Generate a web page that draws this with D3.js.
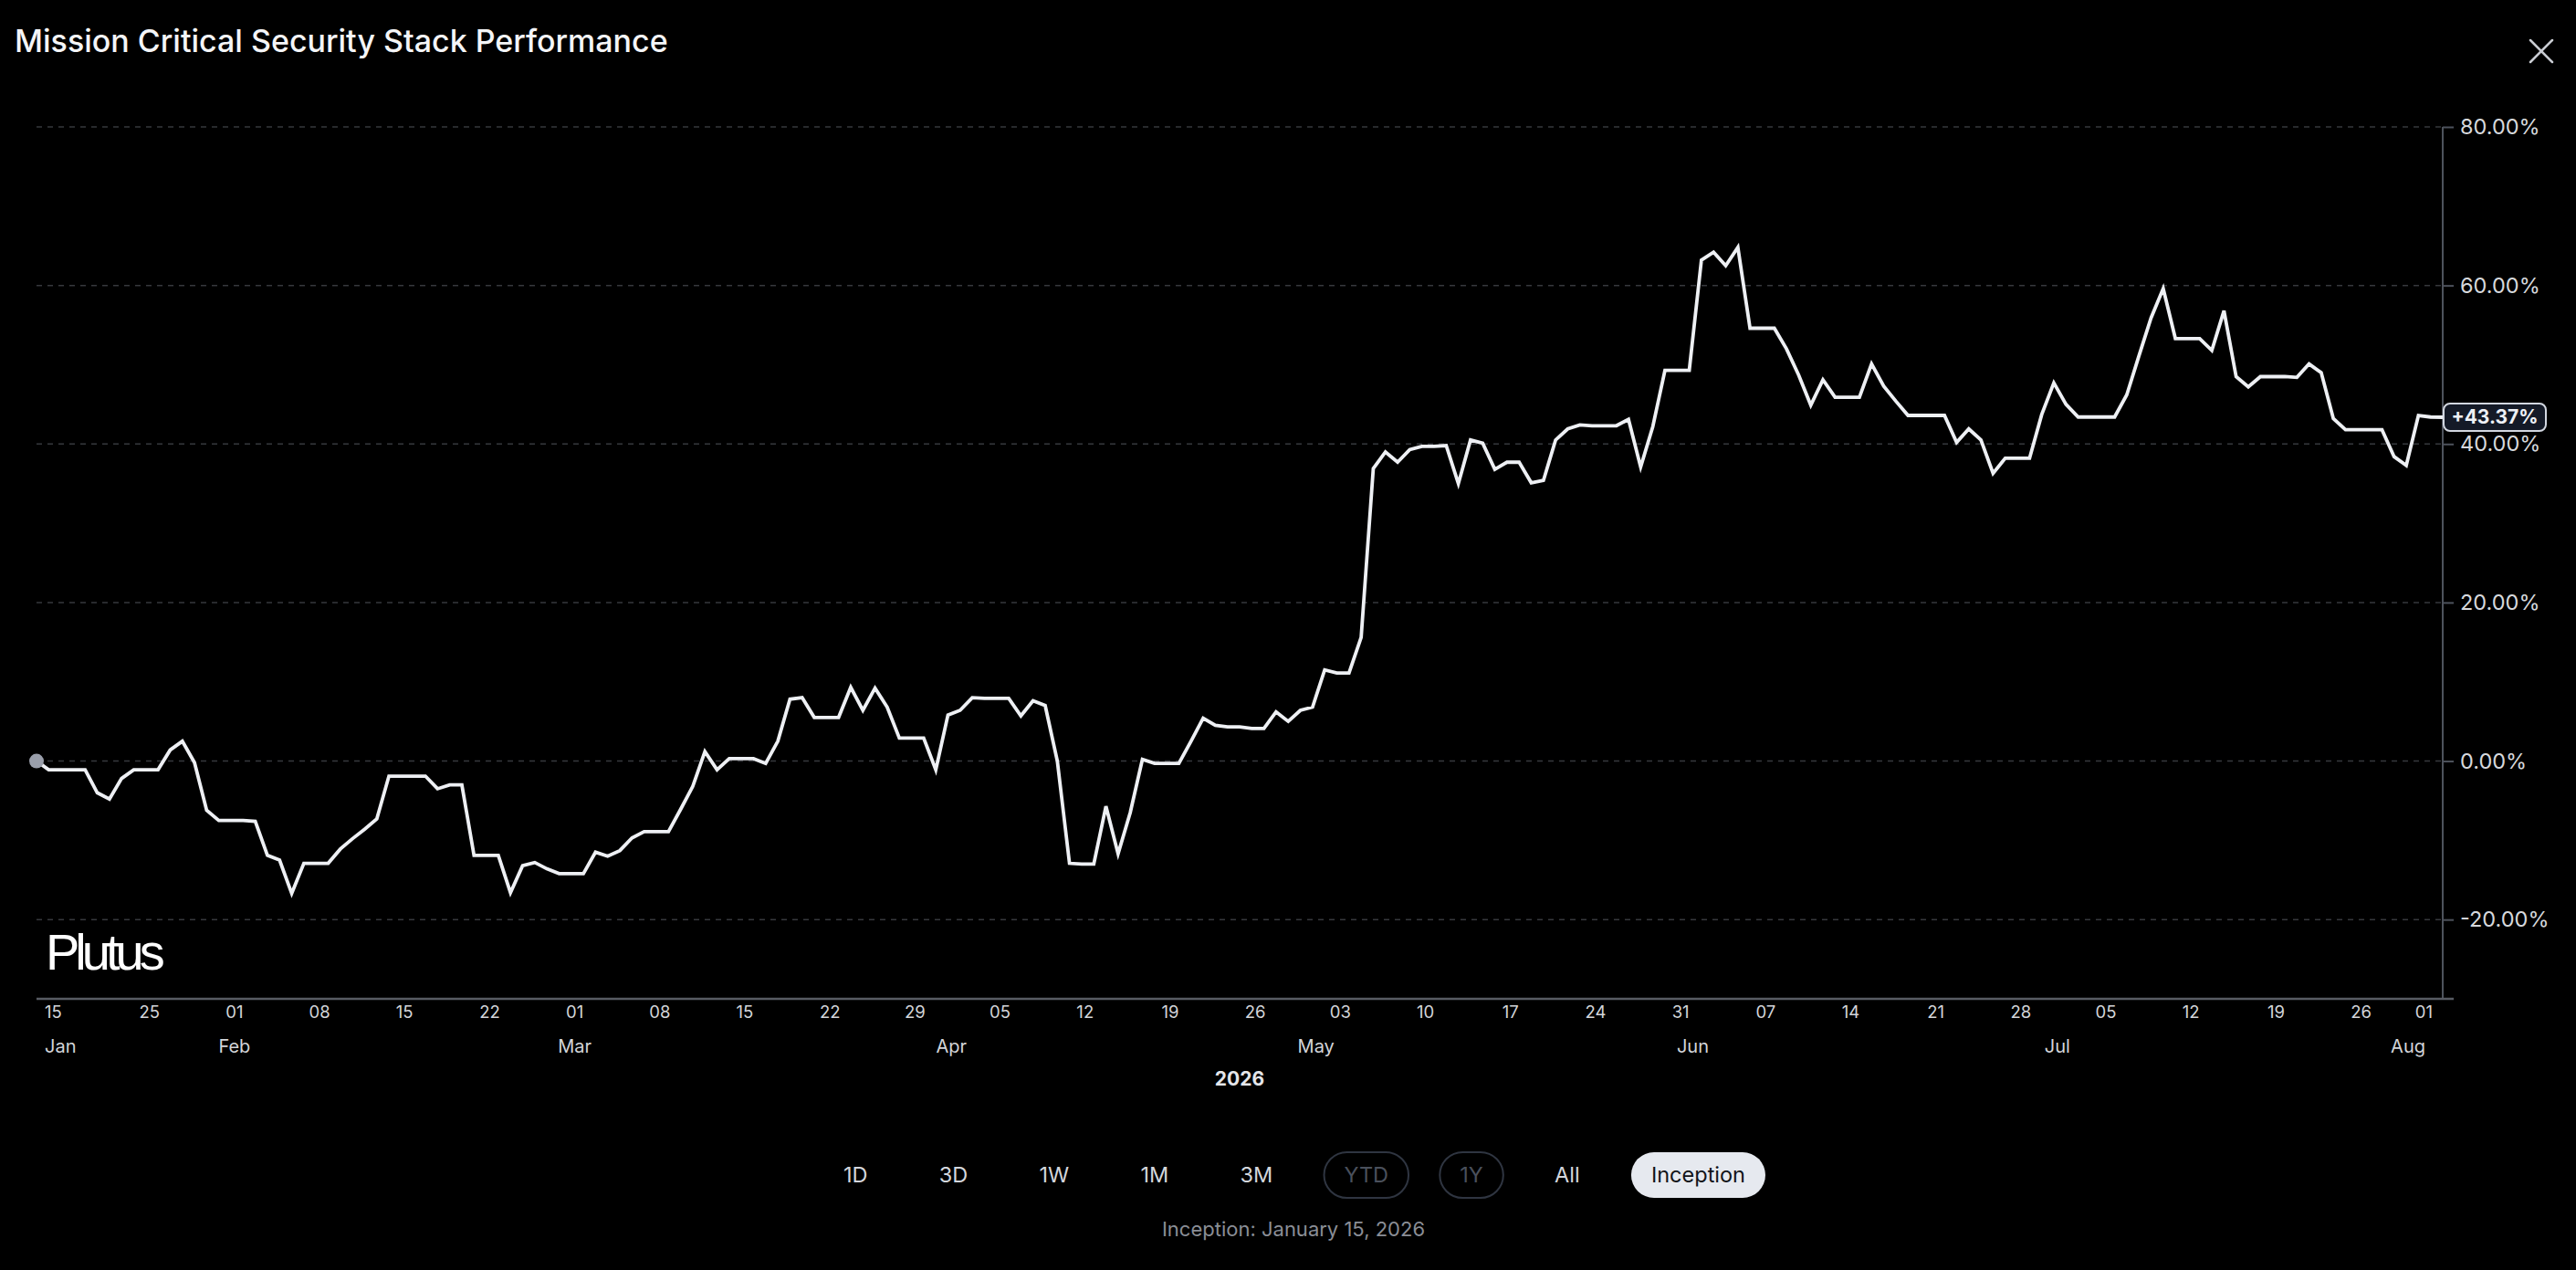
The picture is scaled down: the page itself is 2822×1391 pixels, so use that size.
<!DOCTYPE html>
<html>
<head>
<meta charset="utf-8">
<script src="https://cdn.jsdelivr.net/npm/d3@7"></script>
<style>
  html, body { margin: 0; background: #000; overflow: hidden; }
  svg { display: block; font-family: Inter, "Noto Sans", sans-serif; }
</style>
</head>
<body>
<svg id="chart" width="2822" height="1391"></svg>
<script>
const title = 'Mission Critical Security Stack Performance';
const inception = new Date(2026, 0, 15, 18);

// daily cumulative return (%) since inception, one value per calendar day
const janReturns = [0, -1.1, -1.1, -1.1, -1.1, -4.0, -4.8, -2.2, -1.1, -1.1, -1.1, 1.4, 2.5, -0.2, -6.2, -7.5, -7.5];
const febReturns = [-7.5, -7.6, -11.9, -12.5, -16.7, -12.9, -12.9, -12.9, -11.1, -9.8, -8.6, -7.3, -1.9, -1.9,
  -1.9, -1.9, -3.5, -3.0, -3.0, -11.9, -11.9, -11.9, -16.6, -13.2, -12.8, -13.6, -14.2, -14.2];
const marReturns = [-14.2, -11.5, -12.0, -11.3, -9.7, -8.9, -8.9, -8.9, -6.1, -3.2, 1.2, -1.1, 0.3, 0.3, 0.3, -0.3,
  2.5, 7.8, 8.0, 5.5, 5.5, 5.5, 9.3, 6.4, 9.2, 6.8, 2.9, 2.9, 2.9, -1.1, 5.8];
const aprReturns = [6.4, 8.0, 7.9, 7.9, 7.9, 5.7, 7.6, 7.0, 0.0, -12.9, -13.0, -13.0, -5.7, -11.7, -6.5, 0.2, -0.3,
  -0.3, -0.3, 2.5, 5.4, 4.5, 4.3, 4.3, 4.1, 4.1, 6.2, 5.0, 6.4, 6.8];
const mayReturns = [11.5, 11.1, 11.1, 15.6, 36.9, 39.0, 37.7, 39.3, 39.7, 39.7, 39.8, 35.0, 40.5, 40.1, 36.8, 37.7,
  37.7, 35.1, 35.4, 40.5, 41.9, 42.4, 42.3, 42.3, 42.3, 43.1, 37.1, 42.2, 49.3, 49.3, 49.3];
const junReturns = [63.2, 64.2, 62.5, 64.8, 54.6, 54.6, 54.6, 52.0, 48.7, 44.9, 48.1, 45.9, 45.9, 45.9, 50.1, 47.3,
  45.4, 43.6, 43.6, 43.6, 43.6, 40.2, 41.9, 40.5, 36.3, 38.2, 38.2, 38.2, 43.7, 47.7];
const julReturns = [45.0, 43.4, 43.4, 43.4, 43.4, 46.2, 51.1, 55.9, 59.6, 53.3, 53.3, 53.3, 51.8, 56.8, 48.5, 47.2,
  48.5, 48.5, 48.5, 48.4, 50.1, 49.0, 43.2, 41.8, 41.8, 41.8, 41.8, 38.4, 37.3, 43.6, 43.4];
const augReturns = [43.37];

const dayTicks = ['2026-01-15', '2026-01-25', '2026-02-01', '2026-02-08', '2026-02-15', '2026-02-22',
  '2026-03-01', '2026-03-08', '2026-03-15', '2026-03-22', '2026-03-29', '2026-04-05', '2026-04-12',
  '2026-04-19', '2026-04-26', '2026-05-03', '2026-05-10', '2026-05-17', '2026-05-24', '2026-05-31',
  '2026-06-07', '2026-06-14', '2026-06-21', '2026-06-28', '2026-07-05', '2026-07-12', '2026-07-19',
  '2026-07-26', '2026-08-01'];
const monthTicks = ['2026-01-15', '2026-02-01', '2026-03-01', '2026-04-01', '2026-05-01', '2026-06-01',
  '2026-07-01', '2026-08-01'];
const yearLabel = '2026';
const yTicks = [-20, 0, 20, 40, 60, 80];
const ranges = ['1D', '3D', '1W', '1M', '3M', 'YTD', '1Y', 'All', 'Inception'];
const disabledRanges = ['YTD', '1Y'];
const activeRange = 'Inception';
const watermark = 'Plutus';

const parseDay = d3.timeParse('%Y-%m-%d');
const returns = [].concat(janReturns, febReturns, marReturns, aprReturns, mayReturns, junReturns, julReturns, augReturns);
const data = returns.map((value, i) => ({ date: d3.timeDay.offset(inception, i), value }));

const W = 2822;
const plot = { left: 40, right: 2676, top: 139, bottom: 1094 };

const svg = d3.select('#chart');

const x = d3.scaleTime()
  .domain(d3.extent(data, d => d.date))
  .range([plot.left, plot.right]);
const y = d3.scaleLinear()
  .domain([-30, 80])
  .range([plot.bottom, plot.top]);

// title + close
svg.append('text')
  .attr('x', 16)
  .attr('y', 57)
  .attr('fill', '#f4f5f7')
  .attr('font-size', 34)
  .attr('font-weight', 500)
  .text(title);

const close = svg.append('g')
  .attr('transform', 'translate(2784,56)')
  .attr('stroke', '#c9ccd2')
  .attr('stroke-width', 2.5)
  .attr('stroke-linecap', 'round');
close.append('line').attr('x1', -12).attr('y1', -12).attr('x2', 12).attr('y2', 12);
close.append('line').attr('x1', 12).attr('y1', -12).attr('x2', -12).attr('y2', 12);

// grid
svg.append('g')
  .selectAll('line')
  .data(yTicks)
  .join('line')
  .attr('x1', plot.left)
  .attr('x2', plot.right)
  .attr('y1', d => y(d))
  .attr('y2', d => y(d))
  .attr('stroke', '#36383d')
  .attr('stroke-width', 1.5)
  .attr('stroke-dasharray', '6,6');

// watermark
svg.append('text')
  .attr('x', 50)
  .attr('y', 1062)
  .attr('fill', '#ffffff')
  .attr('font-family', '"Liberation Sans", Arial, sans-serif')
  .attr('font-size', 56)
  .attr('letter-spacing', -5)
  .text(watermark);

// right axis
const yAxis = svg.append('g')
  .attr('transform', `translate(${plot.right},0)`)
  .call(d3.axisRight(y)
    .tickValues(yTicks)
    .tickSize(12)
    .tickPadding(7)
    .tickFormat(d => `${d.toFixed(2)}%`));
yAxis.select('.domain').remove();
yAxis.selectAll('.tick line').attr('stroke', '#4d525c').attr('stroke-width', 2);
yAxis.selectAll('.tick text')
  .attr('fill', '#d6d8dc')
  .attr('font-size', 23.5)
  .attr('font-family', 'Inter, sans-serif');

svg.append('line')
  .attr('x1', plot.right).attr('x2', plot.right)
  .attr('y1', plot.top).attr('y2', plot.bottom)
  .attr('stroke', '#4d525c')
  .attr('stroke-width', 2);
svg.append('line')
  .attr('x1', plot.left).attr('x2', plot.right + 12)
  .attr('y1', plot.bottom).attr('y2', plot.bottom)
  .attr('stroke', '#575b63')
  .attr('stroke-width', 2.5);

// bottom axes: days, months
function clampLabels(g, rightInset) {
  g.selectAll('.tick').each(function () {
    const tick = d3.select(this);
    const m = /translate\(([-\d.]+)/.exec(tick.attr('transform'));
    const tx = +m[1];
    const text = tick.select('text');
    const w = text.node().getComputedTextLength();
    let cx = tx;
    if (cx - w / 2 < plot.left + 9) cx = plot.left + 9 + w / 2;
    if (cx + w / 2 > plot.right - rightInset) cx = plot.right - rightInset - w / 2;
    text.attr('x', cx - tx);
  });
}

const dayAxis = svg.append('g')
  .attr('transform', `translate(0,${plot.bottom})`)
  .call(d3.axisBottom(x)
    .tickValues(dayTicks.map(parseDay))
    .tickSize(0)
    .tickPadding(8)
    .tickFormat(d3.timeFormat('%d')));
dayAxis.select('.domain').remove();
dayAxis.selectAll('.tick text')
  .attr('fill', '#d3d5d9')
  .attr('font-size', 18.5)
  .attr('font-family', 'Inter, sans-serif');
clampLabels(dayAxis, 11);

const monthAxis = svg.append('g')
  .attr('transform', `translate(0,${plot.bottom + 37})`)
  .call(d3.axisBottom(x)
    .tickValues(monthTicks.map(parseDay))
    .tickSize(0)
    .tickPadding(8)
    .tickFormat(d3.timeFormat('%b')));
monthAxis.select('.domain').remove();
monthAxis.selectAll('.tick text')
  .attr('fill', '#d3d5d9')
  .attr('font-size', 20)
  .attr('font-family', 'Inter, sans-serif');
clampLabels(monthAxis, 19);

svg.append('text')
  .attr('x', (plot.left + plot.right) / 2)
  .attr('y', 1189)
  .attr('text-anchor', 'middle')
  .attr('fill', '#e4e6ea')
  .attr('font-size', 21)
  .attr('font-weight', 700)
  .text(yearLabel);

// series
const line = d3.line()
  .x(d => x(d.date))
  .y(d => y(d.value));

svg.append('path')
  .datum(data)
  .attr('fill', 'none')
  .attr('stroke', '#eef0f4')
  .attr('stroke-width', 3.8)
  .attr('d', line);

svg.append('circle')
  .attr('cx', x(data[0].date))
  .attr('cy', y(data[0].value))
  .attr('r', 8)
  .attr('fill', '#9a9fab');

// last value badge
const last = data[data.length - 1];
const badge = svg.append('g')
  .attr('transform', `translate(${plot.right},${y(last.value)})`);
badge.append('rect')
  .attr('x', 1)
  .attr('y', -15)
  .attr('width', 112)
  .attr('height', 30)
  .attr('rx', 7)
  .attr('fill', '#141a27')
  .attr('stroke', '#d2d7e0')
  .attr('stroke-width', 2);
badge.append('text')
  .attr('x', 57)
  .attr('dy', '0.35em')
  .attr('text-anchor', 'middle')
  .attr('fill', '#eef1f6')
  .attr('font-size', 21)
  .attr('font-weight', 700)
  .text(`+${last.value.toFixed(2)}%`);

// range selector
const btnFont = 23.5;
const pad = 22;
const rowLeft = 902;
const rowRight = 1934;
const btnY = 1287;
const measure = svg.append('text').attr('font-size', btnFont).attr('visibility', 'hidden');
const widths = ranges.map(r => measure.text(r).node().getComputedTextLength() + pad * 2);
measure.remove();
const gap = (rowRight - rowLeft - d3.sum(widths)) / (ranges.length - 1);
let cursor = rowLeft;
const buttons = ranges.map((r, i) => {
  const b = { label: r, x: cursor, w: widths[i] };
  cursor += widths[i] + gap;
  return b;
});

const btn = svg.append('g')
  .selectAll('g')
  .data(buttons)
  .join('g')
  .attr('transform', d => `translate(${d.x},${btnY})`);

btn.filter(d => d.label === activeRange || disabledRanges.includes(d.label))
  .append('rect')
  .attr('y', -25)
  .attr('width', d => d.w)
  .attr('height', 50)
  .attr('rx', 25)
  .attr('fill', d => (d.label === activeRange ? '#e6e9ef' : 'none'))
  .attr('stroke', d => (d.label === activeRange ? 'none' : '#2f3541'))
  .attr('stroke-width', 2);

btn.append('text')
  .attr('x', d => d.w / 2)
  .attr('dy', '0.36em')
  .attr('text-anchor', 'middle')
  .attr('font-size', btnFont)
  .attr('fill', (d) => {
    if (d.label === activeRange) return '#111318';
    if (disabledRanges.includes(d.label)) return '#4a505c';
    return '#d3d6dc';
  })
  .text(d => d.label);

svg.append('text')
  .attr('x', W / 2 + 6)
  .attr('y', 1354)
  .attr('text-anchor', 'middle')
  .attr('fill', '#8a8e96')
  .attr('font-size', 22)
  .text(`Inception: ${d3.timeFormat('%B %-d, %Y')(inception)}`);
</script>
</body>
</html>
